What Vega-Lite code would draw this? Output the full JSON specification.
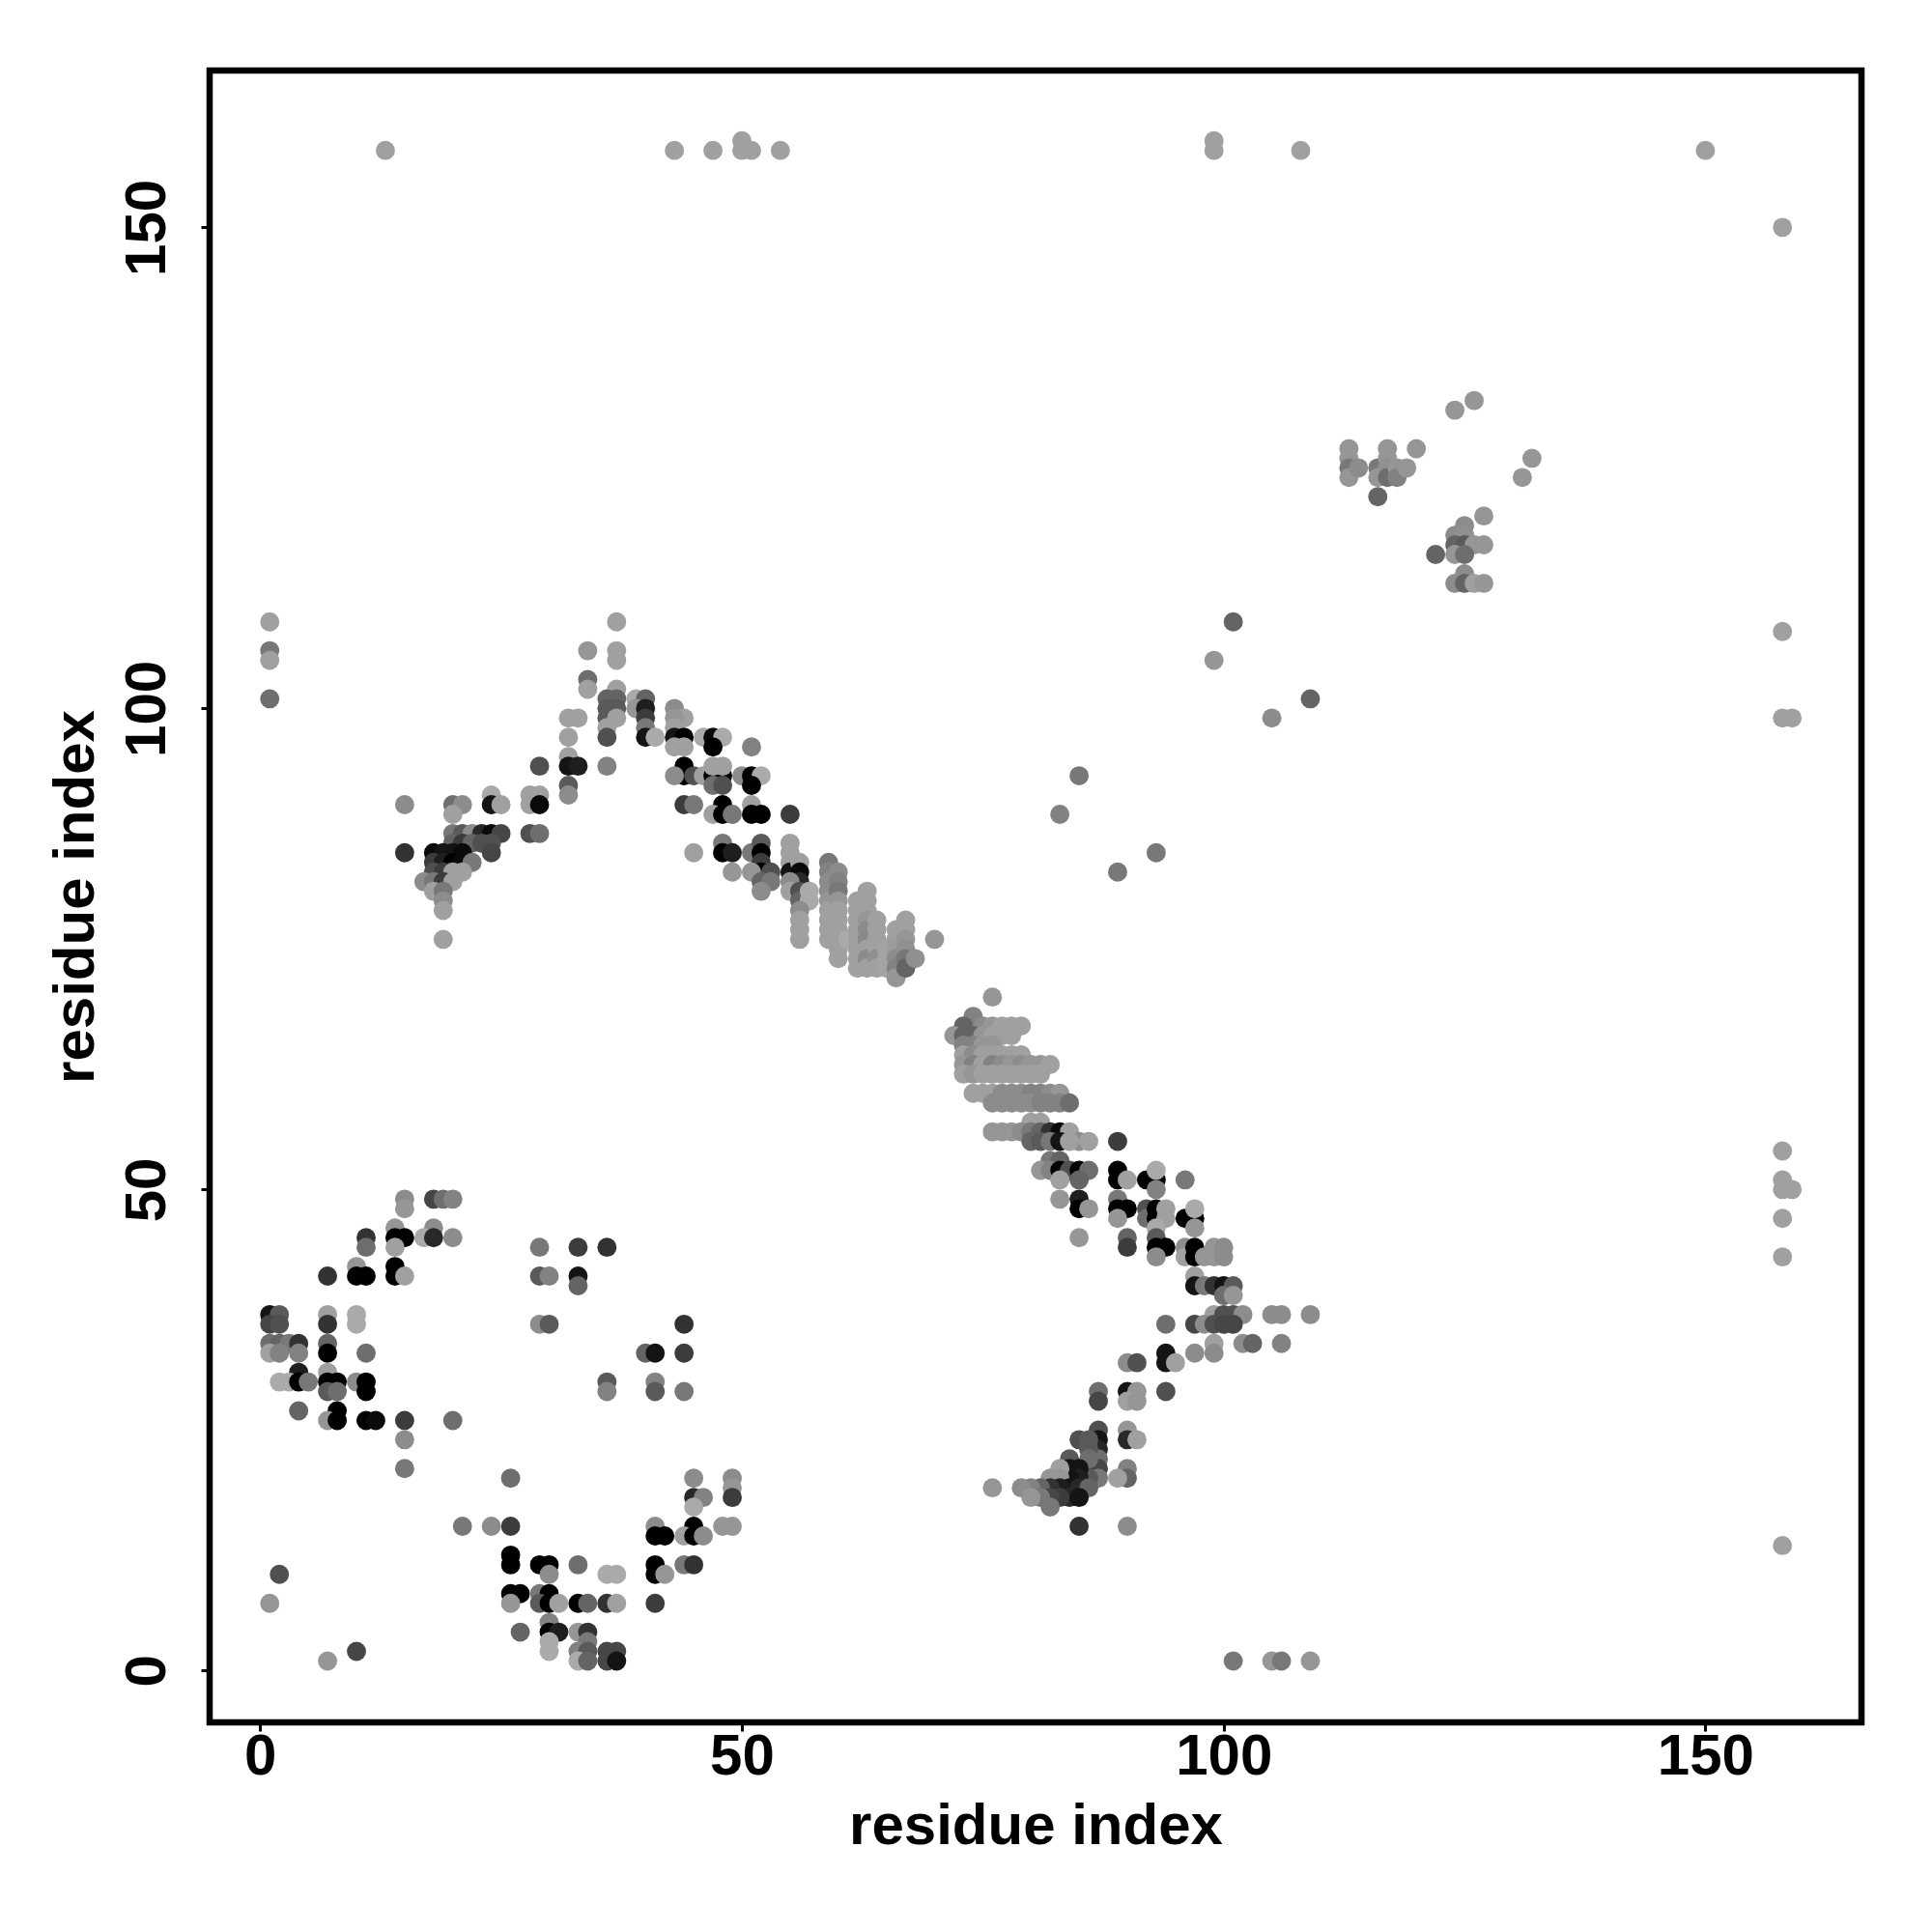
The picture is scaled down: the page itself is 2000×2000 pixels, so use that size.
{"$schema":"https://vega.github.io/schema/vega-lite/v6.json","autosize":"none","width":1710,"height":1710,"padding":{"left":217,"top":73,"right":73,"bottom":217},"background":"white","view":{"stroke":"black","strokeWidth":6.5,"fill":null},"data":{"values":[
{"a":15,"b":49,"w":0.7},{"a":15,"b":48,"w":0.75},{"a":18,"b":49,"w":0.35},{"a":19,"b":49,"w":0.55},{"a":20,"b":49,"w":0.65},{"a":14,"b":46,"w":0.75},{"a":18,"b":46,"w":0.7},{"a":11,"b":45,"w":0.25},{"a":14,"b":45,"w":0},{"a":15,"b":45,"w":0},{"a":17,"b":45,"w":0.85},{"a":18,"b":45,"w":0.2},{"a":20,"b":45,"w":0.7},{"a":11,"b":44,"w":0.55},{"a":14,"b":44,"w":0.8},{"a":29,"b":44,"w":0.6},{"a":33,"b":44,"w":0.3},{"a":36,"b":44,"w":0.25},{"a":10,"b":42,"w":0.75},{"a":14,"b":42,"w":0},{"a":7,"b":41,"w":0.25},{"a":10,"b":41,"w":0},{"a":11,"b":41,"w":0},{"a":14,"b":41,"w":0},{"a":15,"b":41,"w":0.8},{"a":29,"b":41,"w":0.45},{"a":30,"b":41,"w":0.65},{"a":33,"b":41,"w":0.1},{"a":33,"b":40,"w":0.5},
{"a":1,"b":37,"w":0.1},{"a":2,"b":37,"w":0.45},{"a":7,"b":37,"w":0.8},{"a":10,"b":37,"w":0.85},{"a":1,"b":36,"w":0.35},{"a":2,"b":36,"w":0.4},{"a":7,"b":36,"w":0.25},{"a":10,"b":36,"w":0.85},{"a":29,"b":36,"w":0.7},{"a":30,"b":36,"w":0.45},{"a":44,"b":36,"w":0.25},{"a":1,"b":34,"w":0.55},{"a":2,"b":34,"w":0.5},{"a":3,"b":34,"w":0.6},{"a":4,"b":34,"w":0.25},{"a":7,"b":34,"w":0.5},{"a":1,"b":33,"w":0.8},{"a":2,"b":33,"w":0.65},{"a":4,"b":33,"w":0.65},{"a":7,"b":33,"w":0},{"a":11,"b":33,"w":0.55},{"a":40,"b":33,"w":0.5},{"a":41,"b":33,"w":0.1},{"a":44,"b":33,"w":0.3},{"a":4,"b":31,"w":0.15},{"a":7,"b":31,"w":0.8},{"a":2,"b":30,"w":0.85},{"a":3,"b":30,"w":0.85},{"a":4,"b":30,"w":0},{"a":5,"b":30,"w":0.6},{"a":7,"b":30,"w":0},{"a":8,"b":30,"w":0},{"a":10,"b":30,"w":0.7},{"a":11,"b":30,"w":0},{"a":36,"b":30,"w":0.45},{"a":41,"b":30,"w":0.65},{"a":7,"b":29,"w":0.45},{"a":8,"b":29,"w":0.55},{"a":11,"b":29,"w":0},{"a":36,"b":29,"w":0.65},{"a":41,"b":29,"w":0.45},{"a":44,"b":29,"w":0.6},{"a":4,"b":27,"w":0.5},{"a":8,"b":27,"w":0},{"a":7,"b":26,"w":0.75},{"a":8,"b":26,"w":0},{"a":11,"b":26,"w":0},{"a":12,"b":26,"w":0.05},{"a":15,"b":26,"w":0.3},{"a":20,"b":26,"w":0.55},{"a":15,"b":24,"w":0.7},{"a":15,"b":21,"w":0.6},
{"a":26,"b":20,"w":0.55},{"a":45,"b":20,"w":0.7},{"a":49,"b":20,"w":0.7},{"a":49,"b":19,"w":0.75},{"a":45,"b":18,"w":0.2},{"a":46,"b":18,"w":0.65},{"a":49,"b":18,"w":0.3},{"a":45,"b":17,"w":0.85},{"a":21,"b":15,"w":0.6},{"a":24,"b":15,"w":0.7},{"a":26,"b":15,"w":0.3},{"a":41,"b":15,"w":0.7},{"a":45,"b":15,"w":0},{"a":48,"b":15,"w":0.75},{"a":49,"b":15,"w":0.75},{"a":41,"b":14,"w":0},{"a":42,"b":14,"w":0},{"a":44,"b":14,"w":0.8},{"a":45,"b":14,"w":0},{"a":46,"b":14,"w":0.7},{"a":26,"b":12,"w":0},{"a":26,"b":11,"w":0},{"a":29,"b":11,"w":0},{"a":30,"b":11,"w":0},{"a":33,"b":11,"w":0.55},{"a":41,"b":11,"w":0},{"a":44,"b":11,"w":0.6},{"a":45,"b":11,"w":0.25},{"a":2,"b":10,"w":0.4},{"a":30,"b":10,"w":0.7},{"a":36,"b":10,"w":0.85},{"a":37,"b":10,"w":0.85},{"a":41,"b":10,"w":0},{"a":42,"b":10,"w":0.75},{"a":26,"b":8,"w":0},{"a":27,"b":8,"w":0},{"a":29,"b":8,"w":0.6},{"a":30,"b":8,"w":0},{"a":1,"b":7,"w":0.75},{"a":26,"b":7,"w":0.75},{"a":29,"b":7,"w":0.45},{"a":30,"b":7,"w":0},{"a":31,"b":7,"w":0.8},{"a":33,"b":7,"w":0},{"a":34,"b":7,"w":0.5},{"a":36,"b":7,"w":0.25},{"a":37,"b":7,"w":0.8},{"a":41,"b":7,"w":0.3},{"a":30,"b":5,"w":0.65},{"a":27,"b":4,"w":0.5},{"a":30,"b":4,"w":0},{"a":31,"b":4,"w":0.15},{"a":33,"b":4,"w":0.75},{"a":34,"b":4,"w":0.25},{"a":30,"b":3,"w":0.85},{"a":34,"b":3,"w":0.6},{"a":10,"b":2,"w":0.35},{"a":30,"b":2,"w":0.85},{"a":33,"b":2,"w":0.65},{"a":34,"b":2,"w":0.45},{"a":36,"b":2,"w":0.35},{"a":37,"b":2,"w":0.35},{"a":7,"b":1,"w":0.75},{"a":33,"b":1,"w":0.85},{"a":34,"b":1,"w":0.5},{"a":36,"b":1,"w":0.35},{"a":37,"b":1,"w":0.1},
{"a":1,"b":109,"w":0.8},{"a":1,"b":106,"w":0.6},{"a":1,"b":105,"w":0.8},{"a":1,"b":101,"w":0.55},{"a":13,"b":158,"w":0.8},{"a":43,"b":158,"w":0.8},{"a":47,"b":158,"w":0.8},{"a":50,"b":159,"w":0.8},{"a":50,"b":158,"w":0.8},{"a":51,"b":158,"w":0.8},{"a":54,"b":158,"w":0.8},{"a":99,"b":159,"w":0.8},{"a":99,"b":158,"w":0.8},{"a":108,"b":158,"w":0.8},{"a":150,"b":158,"w":0.8},{"a":158,"b":150,"w":0.8},{"a":158,"b":108,"w":0.8},{"a":158,"b":99,"w":0.8},{"a":159,"b":99,"w":0.8},{"a":158,"b":54,"w":0.8},{"a":158,"b":51,"w":0.8},{"a":158,"b":50,"w":0.8},{"a":159,"b":50,"w":0.8},{"a":158,"b":47,"w":0.8},{"a":158,"b":43,"w":0.8},{"a":158,"b":13,"w":0.8},{"a":101,"b":1,"w":0.6},{"a":105,"b":1,"w":0.75},{"a":106,"b":1,"w":0.6},{"a":109,"b":1,"w":0.75},{"a":99,"b":105,"w":0.75},{"a":101,"b":109,"w":0.5},{"a":105,"b":99,"w":0.7},{"a":109,"b":101,"w":0.5},{"a":83,"b":89,"w":0.65},{"a":85,"b":93,"w":0.6},{"a":89,"b":83,"w":0.6},{"a":93,"b":85,"w":0.6},
{"a":37,"b":109,"w":0.8},{"a":34,"b":106,"w":0.75},{"a":37,"b":106,"w":0.8},{"a":37,"b":105,"w":0.8},{"a":34,"b":103,"w":0.55},{"a":34,"b":102,"w":0.8},{"a":37,"b":102,"w":0.8},{"a":39,"b":101,"w":0.85},{"a":40,"b":101,"w":0.5},{"a":36,"b":101,"w":0.5},{"a":37,"b":101,"w":0.5},{"a":36,"b":100,"w":0.45},{"a":37,"b":100,"w":0.45},{"a":39,"b":100,"w":0.75},{"a":40,"b":100,"w":0.15},{"a":43,"b":100,"w":0.7},{"a":36,"b":99,"w":0.45},{"a":37,"b":99,"w":0.8},{"a":32,"b":99,"w":0.8},{"a":33,"b":99,"w":0.8},{"a":40,"b":99,"w":0.3},{"a":44,"b":99,"w":0.8},{"a":43,"b":99,"w":0.75},{"a":36,"b":98,"w":0.8},{"a":40,"b":98,"w":0.6},{"a":43,"b":98,"w":0.8},{"a":32,"b":97,"w":0.8},{"a":36,"b":97,"w":0.4},{"a":40,"b":97,"w":0.1},{"a":41,"b":97,"w":0.85},{"a":43,"b":97,"w":0.1},{"a":44,"b":97,"w":0},{"a":46,"b":97,"w":0.85},{"a":47,"b":97,"w":0.05},{"a":48,"b":97,"w":0.85},{"a":43,"b":96,"w":0.8},{"a":44,"b":96,"w":0.8},{"a":47,"b":96,"w":0},{"a":51,"b":96,"w":0.65},{"a":32,"b":95,"w":0.8},{"a":32,"b":94,"w":0.1},{"a":33,"b":94,"w":0.15},{"a":29,"b":94,"w":0.4},{"a":36,"b":94,"w":0.65},{"a":44,"b":94,"w":0},{"a":44,"b":93,"w":0},{"a":43,"b":93,"w":0.7},{"a":45,"b":93,"w":0.4},{"a":46,"b":93,"w":0.8},{"a":47,"b":93,"w":0},{"a":48,"b":93,"w":0},{"a":50,"b":93,"w":0.7},{"a":51,"b":93,"w":0},{"a":52,"b":93,"w":0.85},{"a":47,"b":94,"w":0.8},{"a":48,"b":94,"w":0.8},{"a":47,"b":92,"w":0.55},{"a":48,"b":92,"w":0.4},{"a":51,"b":92,"w":0},{"a":32,"b":92,"w":0.45},{"a":32,"b":91,"w":0.7},{"a":28,"b":91,"w":0.8},{"a":29,"b":91,"w":0.8},{"a":28,"b":90,"w":0.8},{"a":29,"b":90,"w":0.05},{"a":24,"b":91,"w":0.85},{"a":24,"b":90,"w":0.1},{"a":25,"b":90,"w":0.8},{"a":15,"b":90,"w":0.7},{"a":20,"b":90,"w":0.55},{"a":21,"b":90,"w":0.7},{"a":20,"b":89,"w":0.8},{"a":44,"b":90,"w":0.3},{"a":45,"b":90,"w":0.6},{"a":48,"b":90,"w":0},{"a":51,"b":90,"w":0.8},{"a":47,"b":89,"w":0.8},{"a":48,"b":89,"w":0},{"a":49,"b":89,"w":0.6},{"a":51,"b":89,"w":0},{"a":52,"b":89,"w":0},{"a":55,"b":89,"w":0.3},
{"a":20,"b":87,"w":0.6},{"a":21,"b":87,"w":0.45},{"a":22,"b":87,"w":0.7},{"a":23,"b":87,"w":0.2},{"a":24,"b":87,"w":0.05},{"a":25,"b":87,"w":0.35},{"a":28,"b":87,"w":0.4},{"a":29,"b":87,"w":0.55},{"a":20,"b":86,"w":0.5},{"a":21,"b":86,"w":0.3},{"a":22,"b":86,"w":0.5},{"a":23,"b":86,"w":0.4},{"a":24,"b":86,"w":0.4},{"a":15,"b":85,"w":0.25},{"a":18,"b":85,"w":0.05},{"a":19,"b":85,"w":0.1},{"a":20,"b":85,"w":0.1},{"a":21,"b":85,"w":0.05},{"a":24,"b":85,"w":0.35},{"a":18,"b":84,"w":0.3},{"a":19,"b":84,"w":0.15},{"a":20,"b":84,"w":0},{"a":21,"b":84,"w":0.05},{"a":22,"b":84,"w":0.6},{"a":18,"b":83,"w":0.4},{"a":19,"b":83,"w":0.3},{"a":20,"b":83,"w":0.8},{"a":21,"b":83,"w":0.8},{"a":17,"b":82,"w":0.7},{"a":18,"b":82,"w":0.6},{"a":19,"b":82,"w":0.3},{"a":20,"b":82,"w":0.8},{"a":18,"b":81,"w":0.8},{"a":19,"b":81,"w":0.6},{"a":19,"b":80,"w":0.7},{"a":19,"b":79,"w":0.8},{"a":19,"b":76,"w":0.8},
{"a":45,"b":85,"w":0.8},{"a":48,"b":86,"w":0.6},{"a":48,"b":85,"w":0},{"a":49,"b":85,"w":0.15},{"a":51,"b":85,"w":0.6},{"a":52,"b":86,"w":0.45},{"a":52,"b":85,"w":0},{"a":52,"b":84,"w":0.3},{"a":52,"b":83,"w":0},{"a":51,"b":83,"w":0.75},{"a":49,"b":83,"w":0.75},{"a":53,"b":83,"w":0.4},{"a":52,"b":82,"w":0.5},{"a":53,"b":82,"w":0.6},{"a":52,"b":81,"w":0.7},{"a":55,"b":86,"w":0.8},{"a":55,"b":85,"w":0.8},{"a":55,"b":84,"w":0.8},{"a":55,"b":83,"w":0.1},{"a":56,"b":84,"w":0.8},{"a":56,"b":83,"w":0.05},{"a":56,"b":82,"w":0.2},{"a":55,"b":82,"w":0.7},{"a":55,"b":81,"w":0.8},{"a":56,"b":81,"w":0.4},{"a":56,"b":80,"w":0.5},{"a":57,"b":81,"w":0.85},{"a":57,"b":80,"w":0.85},{"a":56,"b":79,"w":0.7},{"a":56,"b":78,"w":0.8},{"a":56,"b":77,"w":0.8},{"a":56,"b":76,"w":0.8},
{"a":59,"b":84,"w":0.6},{"a":59,"b":83,"w":0.65},{"a":59,"b":82,"w":0.7},{"a":59,"b":81,"w":0.7},{"a":59,"b":80,"w":0.75},{"a":59,"b":79,"w":0.8},{"a":59,"b":78,"w":0.8},{"a":59,"b":77,"w":0.8},{"a":59,"b":76,"w":0.8},{"a":60,"b":83,"w":0.7},{"a":60,"b":82,"w":0.65},{"a":60,"b":81,"w":0.6},{"a":60,"b":80,"w":0.75},{"a":60,"b":79,"w":0.8},{"a":60,"b":78,"w":0.8},{"a":60,"b":77,"w":0.8},{"a":60,"b":76,"w":0.8},{"a":60,"b":75,"w":0.8},{"a":60,"b":74,"w":0.8},{"a":61,"b":76,"w":0.85},{"a":62,"b":80,"w":0.8},{"a":62,"b":79,"w":0.8},{"a":62,"b":78,"w":0.8},{"a":62,"b":77,"w":0.8},{"a":62,"b":76,"w":0.8},{"a":62,"b":75,"w":0.8},{"a":62,"b":74,"w":0.8},{"a":62,"b":73,"w":0.8},{"a":63,"b":81,"w":0.8},{"a":63,"b":80,"w":0.8},{"a":63,"b":79,"w":0.8},{"a":63,"b":78,"w":0.75},{"a":63,"b":77,"w":0.7},{"a":63,"b":76,"w":0.68},{"a":63,"b":75,"w":0.8},{"a":63,"b":74,"w":0.7},{"a":63,"b":73,"w":0.8},{"a":64,"b":78,"w":0.8},{"a":64,"b":77,"w":0.8},{"a":64,"b":76,"w":0.8},{"a":64,"b":75,"w":0.8},{"a":64,"b":74,"w":0.72},{"a":64,"b":73,"w":0.8},{"a":65,"b":75,"w":0.82},{"a":65,"b":74,"w":0.82},{"a":65,"b":73,"w":0.82},{"a":66,"b":77,"w":0.8},{"a":66,"b":76,"w":0.8},{"a":66,"b":75,"w":0.78},{"a":66,"b":74,"w":0.7},{"a":66,"b":73,"w":0.65},{"a":66,"b":72,"w":0.75},{"a":67,"b":78,"w":0.8},{"a":67,"b":77,"w":0.8},{"a":67,"b":76,"w":0.75},{"a":67,"b":75,"w":0.72},{"a":67,"b":74,"w":0.6},{"a":67,"b":73,"w":0.5},{"a":68,"b":74,"w":0.72},{"a":70,"b":76,"w":0.75},
{"a":76,"b":70,"w":0.75},{"a":74,"b":68,"w":0.65},{"a":73,"b":67,"w":0.5},{"a":75,"b":67,"w":0.7},{"a":76,"b":67,"w":0.75},{"a":77,"b":67,"w":0.8},{"a":78,"b":67,"w":0.8},{"a":79,"b":67,"w":0.8},{"a":72,"b":66,"w":0.75},{"a":73,"b":66,"w":0.5},{"a":74,"b":66,"w":0.5},{"a":75,"b":66,"w":0.75},{"a":76,"b":66,"w":0.8},{"a":77,"b":66,"w":0.8},{"a":78,"b":66,"w":0.8},{"a":73,"b":65,"w":0.65},{"a":74,"b":65,"w":0.65},{"a":75,"b":65,"w":0.75},{"a":76,"b":65,"w":0.75},{"a":73,"b":64,"w":0.8},{"a":74,"b":64,"w":0.7},{"a":75,"b":64,"w":0.8},{"a":76,"b":64,"w":0.8},{"a":77,"b":64,"w":0.8},{"a":78,"b":64,"w":0.8},{"a":79,"b":64,"w":0.8},{"a":73,"b":63,"w":0.75},{"a":74,"b":63,"w":0.65},{"a":75,"b":63,"w":0.8},{"a":76,"b":63,"w":0.65},{"a":77,"b":63,"w":0.7},{"a":78,"b":63,"w":0.75},{"a":79,"b":63,"w":0.7},{"a":80,"b":63,"w":0.75},{"a":81,"b":63,"w":0.75},{"a":82,"b":63,"w":0.8},{"a":73,"b":62,"w":0.8},{"a":74,"b":62,"w":0.75},{"a":75,"b":62,"w":0.8},{"a":76,"b":62,"w":0.8},{"a":77,"b":62,"w":0.8},{"a":78,"b":62,"w":0.8},{"a":79,"b":62,"w":0.8},{"a":80,"b":62,"w":0.8},{"a":81,"b":62,"w":0.8},{"a":74,"b":60,"w":0.8},{"a":75,"b":60,"w":0.8},{"a":76,"b":60,"w":0.8},{"a":77,"b":60,"w":0.7},{"a":78,"b":60,"w":0.7},{"a":79,"b":60,"w":0.7},{"a":80,"b":60,"w":0.65},{"a":81,"b":60,"w":0.65},{"a":82,"b":60,"w":0.7},{"a":83,"b":60,"w":0.75},{"a":76,"b":59,"w":0.7},{"a":77,"b":59,"w":0.7},{"a":78,"b":59,"w":0.7},{"a":79,"b":59,"w":0.7},{"a":80,"b":59,"w":0.7},{"a":81,"b":59,"w":0.65},{"a":82,"b":59,"w":0.65},{"a":83,"b":59,"w":0.65},{"a":84,"b":59,"w":0.55},{"a":80,"b":57,"w":0.8},{"a":81,"b":57,"w":0.8},{"a":76,"b":56,"w":0.75},{"a":77,"b":56,"w":0.75},{"a":78,"b":56,"w":0.75},{"a":79,"b":56,"w":0.7},{"a":80,"b":56,"w":0.6},{"a":81,"b":56,"w":0.5},{"a":82,"b":56,"w":0.25},{"a":83,"b":56,"w":0.05},{"a":84,"b":56,"w":0.8},{"a":85,"b":55,"w":0.7},{"a":86,"b":55,"w":0.8},{"a":80,"b":55,"w":0.5},{"a":81,"b":55,"w":0.45},{"a":82,"b":55,"w":0.6},{"a":83,"b":55,"w":0.1},{"a":84,"b":55,"w":0.8},{"a":89,"b":55,"w":0.3},
{"a":82,"b":53,"w":0.6},{"a":83,"b":53,"w":0.5},{"a":81,"b":52,"w":0.75},{"a":82,"b":52,"w":0.65},{"a":83,"b":52,"w":0},{"a":84,"b":52,"w":0.4},{"a":85,"b":52,"w":0},{"a":86,"b":52,"w":0.55},{"a":89,"b":52,"w":0},{"a":83,"b":51,"w":0.8},{"a":85,"b":51,"w":0.5},{"a":89,"b":51,"w":0},{"a":90,"b":51,"w":0.8},{"a":92,"b":51,"w":0},{"a":93,"b":51,"w":0},{"a":93,"b":52,"w":0.85},{"a":93,"b":50,"w":0.65},{"a":96,"b":51,"w":0.6},{"a":83,"b":49,"w":0.75},{"a":85,"b":49,"w":0.15},{"a":85,"b":48,"w":0},{"a":86,"b":48,"w":0.75},{"a":89,"b":49,"w":0.6},{"a":89,"b":48,"w":0},{"a":90,"b":48,"w":0},{"a":89,"b":47,"w":0.75},{"a":92,"b":48,"w":0.4},{"a":92,"b":47,"w":0.55},{"a":93,"b":48,"w":0},{"a":93,"b":47,"w":0},{"a":94,"b":48,"w":0.8},{"a":94,"b":47,"w":0.8},{"a":96,"b":47,"w":0},{"a":97,"b":47,"w":0},{"a":97,"b":48,"w":0.85},{"a":97,"b":46,"w":0.75},{"a":85,"b":45,"w":0.75},{"a":90,"b":45,"w":0.5},{"a":90,"b":44,"w":0.3},{"a":93,"b":46,"w":0.85},{"a":93,"b":45,"w":0.45},{"a":93,"b":44,"w":0},{"a":94,"b":44,"w":0},{"a":93,"b":43,"w":0.7},{"a":96,"b":44,"w":0.7},{"a":96,"b":43,"w":0.8},{"a":97,"b":44,"w":0},{"a":97,"b":43,"w":0},{"a":98,"b":43,"w":0.75},{"a":99,"b":44,"w":0.75},{"a":99,"b":43,"w":0.75},{"a":100,"b":44,"w":0.7},{"a":100,"b":43,"w":0.7},{"a":97,"b":41,"w":0.8},{"a":97,"b":40,"w":0.1},{"a":98,"b":40,"w":0.6},{"a":99,"b":40,"w":0.25},{"a":100,"b":40,"w":0.1},{"a":101,"b":40,"w":0.45},{"a":100,"b":39,"w":0.55},{"a":101,"b":39,"w":0.75},{"a":99,"b":37,"w":0.8},{"a":100,"b":37,"w":0.4},{"a":101,"b":37,"w":0.4},{"a":102,"b":37,"w":0.7},{"a":105,"b":37,"w":0.7},{"a":106,"b":37,"w":0.7},{"a":109,"b":37,"w":0.7},{"a":94,"b":36,"w":0.55},{"a":97,"b":36,"w":0.35},{"a":98,"b":36,"w":0.7},{"a":99,"b":36,"w":0.4},{"a":100,"b":36,"w":0.35},{"a":101,"b":36,"w":0.35},{"a":99,"b":34,"w":0.8},{"a":102,"b":34,"w":0.7},{"a":103,"b":34,"w":0.5},{"a":106,"b":34,"w":0.65},{"a":99,"b":33,"w":0.7},{"a":97,"b":33,"w":0.7},{"a":94,"b":33,"w":0.1},{"a":94,"b":32,"w":0.1},{"a":95,"b":32,"w":0.8},{"a":90,"b":32,"w":0.7},{"a":91,"b":32,"w":0.4},{"a":94,"b":29,"w":0.4},{"a":87,"b":29,"w":0.55},{"a":87,"b":28,"w":0.35},{"a":90,"b":29,"w":0.1},{"a":91,"b":29,"w":0.75},{"a":90,"b":28,"w":0.8},{"a":91,"b":28,"w":0.75},{"a":90,"b":25,"w":0.75},{"a":90,"b":24,"w":0.2},{"a":91,"b":24,"w":0.8},{"a":87,"b":25,"w":0.4},{"a":87,"b":24,"w":0.1},{"a":87,"b":23,"w":0.2},{"a":87,"b":22,"w":0.55},{"a":87,"b":21,"w":0.35},{"a":87,"b":20,"w":0.6},{"a":85,"b":24,"w":0.4},{"a":86,"b":24,"w":0.45},{"a":86,"b":23,"w":0.45},{"a":86,"b":22,"w":0.55},{"a":86,"b":20,"w":0.45},{"a":90,"b":21,"w":0.65},{"a":90,"b":20,"w":0.5},{"a":89,"b":20,"w":0.8},{"a":84,"b":22,"w":0.45},{"a":85,"b":21,"w":0.1},{"a":84,"b":21,"w":0.1},{"a":85,"b":20,"w":0.15},{"a":84,"b":20,"w":0.1},{"a":83,"b":21,"w":0.8},{"a":83,"b":20,"w":0.75},{"a":82,"b":20,"w":0.75},{"a":84,"b":19,"w":0.1},{"a":85,"b":19,"w":0.2},{"a":86,"b":19,"w":0.5},{"a":83,"b":19,"w":0.15},{"a":82,"b":19,"w":0.25},{"a":81,"b":19,"w":0.5},{"a":80,"b":19,"w":0.65},{"a":79,"b":19,"w":0.7},{"a":76,"b":19,"w":0.75},{"a":84,"b":18,"w":0.2},{"a":85,"b":18,"w":0.1},{"a":83,"b":18,"w":0.3},{"a":82,"b":18,"w":0.35},{"a":81,"b":18,"w":0.6},{"a":80,"b":18,"w":0.75},{"a":82,"b":17,"w":0.6},{"a":85,"b":15,"w":0.25},{"a":90,"b":15,"w":0.7},
{"a":113,"b":127,"w":0.75},{"a":113,"b":126,"w":0.75},{"a":113,"b":125,"w":0.6},{"a":113,"b":124,"w":0.75},{"a":114,"b":125,"w":0.7},{"a":116,"b":125,"w":0.6},{"a":116,"b":124,"w":0.75},{"a":117,"b":127,"w":0.75},{"a":117,"b":126,"w":0.75},{"a":117,"b":125,"w":0.72},{"a":117,"b":124,"w":0.55},{"a":118,"b":125,"w":0.75},{"a":118,"b":124,"w":0.65},{"a":119,"b":125,"w":0.75},{"a":120,"b":127,"w":0.75},{"a":124,"b":131,"w":0.75},{"a":126,"b":132,"w":0.75},{"a":132,"b":126,"w":0.75},{"a":131,"b":124,"w":0.75},{"a":116,"b":122,"w":0.5},{"a":127,"b":120,"w":0.75},{"a":125,"b":119,"w":0.7},{"a":124,"b":118,"w":0.7},{"a":125,"b":118,"w":0.72},{"a":124,"b":117,"w":0.5},{"a":125,"b":117,"w":0.45},{"a":126,"b":117,"w":0.75},{"a":127,"b":117,"w":0.75},{"a":124,"b":116,"w":0.75},{"a":125,"b":116,"w":0.55},{"a":122,"b":116,"w":0.5},{"a":125,"b":114,"w":0.7},{"a":124,"b":113,"w":0.7},{"a":125,"b":113,"w":0.5},{"a":126,"b":113,"w":0.8},{"a":127,"b":113,"w":0.75}
]},"mark":{"type":"point","filled":true,"opacity":1,"size":395,"strokeWidth":0},"encoding":{"x":{"field":"a","type":"quantitative","scale":{"domain":[-5.24,166.2],"nice":false,"zero":false},"axis":{"values":[0,50,100,150],"title":"residue index","grid":false,"domain":false,"tickColor":"black","tickWidth":3,"tickSize":9,"labelFont":"Liberation Sans","labelFontWeight":"bold","labelFontSize":60,"labelColor":"black","labelPadding":-3,"labelFlush":false,"labelOverlap":false,"titleFont":"Liberation Sans","titleFontWeight":"bold","titleFontSize":60,"titleColor":"black","titlePadding":13}},"y":{"field":"b","type":"quantitative","scale":{"domain":[-5.38,166.3],"nice":false,"zero":false},"axis":{"values":[0,50,100,150],"title":"residue index","grid":false,"domain":false,"tickColor":"black","tickWidth":3,"tickSize":9,"labelFont":"Liberation Sans","labelFontWeight":"bold","labelFontSize":60,"labelColor":"black","labelAngle":-90,"labelAlign":"center","labelBaseline":"bottom","labelPadding":25,"labelFlush":false,"labelOverlap":false,"titleFont":"Liberation Sans","titleFontWeight":"bold","titleFontSize":60,"titleColor":"black","titlePadding":13}},"color":{"field":"w","type":"quantitative","legend":null,"scale":{"domain":[0,1],"range":["#000000","#c8c8c8"],"interpolate":"rgb"}},"order":[{"field":"a","type":"quantitative"},{"field":"b","type":"quantitative"}]}}
